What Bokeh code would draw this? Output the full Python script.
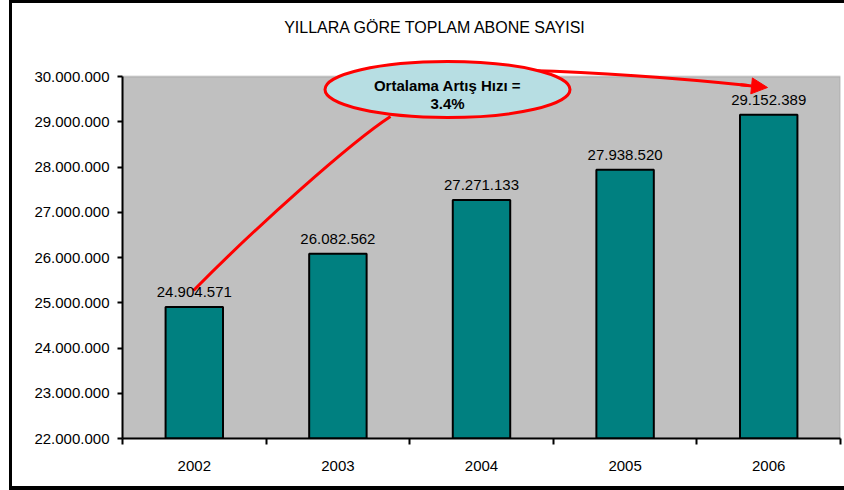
from bokeh.plotting import figure
from bokeh.models import (ColumnDataSource, Range1d, FixedTicker, BoxAnnotation,
                          LabelSet, Label, Arrow, NormalHead)
from bokeh.embed import file_html
from bokeh.resources import INLINE
from bokeh.core.properties import value

# ---------------- data ----------------
years = ["2002", "2003", "2004", "2005", "2006"]
subscribers = [24904571, 26082562, 27271133, 27938520, 29152389]
y_ticks = [22000000, 23000000, 24000000, 25000000, 26000000,
           27000000, 28000000, 29000000, 30000000]
title_text = "YILLARA GÖRE TOPLAM ABONE SAYISI"
note_line1 = "Ortalama Artış Hızı ="
note_line2 = "3.4%"


def fmt(v):
    return f"{v:,}".replace(",", ".")


# ---------------- layout ----------------
W, H = 844, 490
LEFT, RIGHT, BOTTOM = 122, 4, 52
N = len(years)
panel_top_px, panel_bottom_px = 76, H - BOTTOM      # pixel rows of 30M and 22M
Y0 = y_ticks[0]
span = y_ticks[-1] - y_ticks[0]
Y1 = Y0 + span * panel_bottom_px / (panel_bottom_px - panel_top_px)
frame_w = W - LEFT - RIGHT


def dx(px):  # pixel -> data x
    return (px - LEFT) / frame_w * N


def dy(py):  # pixel -> data y
    return Y0 + (panel_bottom_px - py) / (panel_bottom_px - panel_top_px) * span


xs = [i + 0.5 for i in range(N)]
src = ColumnDataSource(dict(x=xs, value=subscribers,
                            label=[fmt(v) for v in subscribers]))

p = figure(width=W, height=H, x_range=Range1d(0, N), y_range=Range1d(Y0, Y1),
           output_backend="svg", toolbar_location=None,
           min_border_left=LEFT, min_border_right=RIGHT, min_border_top=0,
           min_border_bottom=BOTTOM)
p.background_fill_color = None
p.border_fill_color = None
p.outline_line_color = None
p.grid.visible = False
p.styles = {"box-shadow": "inset 9px 0 0 0 #fff, inset 12px 0 0 0 #000, "
                          "inset 0 3px 0 0 #000, inset 0 -4px 0 0 #000"}

# gray plot panel
p.add_layout(BoxAnnotation(left=0, right=N, bottom=y_ticks[0], top=y_ticks[-1],
                           fill_color="#C0C0C0", fill_alpha=1.0,
                           line_color="#808080", line_width=2, level="underlay"))

# y axis
ya = p.yaxis[0]
ya.ticker = FixedTicker(ticks=y_ticks)
ya.major_label_overrides = {t: fmt(t) for t in y_ticks}
ya.bounds = (y_ticks[0], y_ticks[-1])
ya.major_label_text_font = "Liberation Sans"
ya.major_label_text_font_size = "15px"
ya.major_label_text_color = "black"
ya.major_tick_out = 5
ya.major_tick_in = 0
ya.major_tick_line_width = 2
ya.minor_tick_line_color = None
ya.axis_line_width = 2
ya.major_label_standoff = 8

# x axis
xa = p.xaxis[0]
xa.ticker = FixedTicker(ticks=xs, minor_ticks=list(range(N + 1)))
xa.major_label_overrides = {x: y for x, y in zip(xs, years)}
xa.major_tick_line_color = None
xa.major_tick_out = 0
xa.major_tick_in = 0
xa.minor_tick_out = 6
xa.minor_tick_in = 0
xa.minor_tick_line_color = "black"
xa.minor_tick_line_width = 2
xa.axis_line_width = 2
xa.major_label_text_font = "Liberation Sans"
xa.major_label_text_font_size = "15px"
xa.major_label_text_color = "black"
xa.major_label_standoff = 16

# bars
p.vbar(x="x", top="value", bottom=Y0, width=0.4, source=src,
       fill_color="#008080", line_color="black", line_width=2)

p.add_layout(LabelSet(x="x", y="value", text="label", source=src,
                      text_align="center", text_baseline="alphabetic", y_offset=10,
                      text_font=value("Liberation Sans"), text_font_size="15px",
                      text_color="black"))

# title
p.add_layout(Label(x=dx(435), y=dy(27), text=title_text, text_align="center",
                   text_baseline="middle", text_font="Liberation Sans",
                   text_font_size="16px", text_color="black"))

# annotation curves
p.bezier(x0=[dx(193)], y0=[dy(290)], x1=[dx(390)], y1=[dy(116)],
         cx0=[dx(255)], cy0=[dy(227)], cx1=[dx(350)], cy1=[dy(142)],
         line_color="red", line_width=3)
p.bezier(x0=[dx(528)], y0=[dy(70)], x1=[dx(748)], y1=[dy(85)],
         cx0=[dx(600)], cy0=[dy(72)], cx1=[dx(690)], cy1=[dy(79)],
         line_color="red", line_width=3)
p.add_layout(Arrow(end=NormalHead(size=16, fill_color="red", line_color="red"),
                   x_start=dx(740), y_start=dy(84.3), x_end=dx(767), y_end=dy(87),
                   line_color="red", line_width=3))

# ellipse callout
p.ellipse(x=[dx(447)], y=[dy(89)], width=245, height=56,
          width_units="screen", height_units="screen",
          fill_color="#B7DEE3", line_color="red", line_width=3)
p.add_layout(Label(x=dx(447), y=dy(85), text=note_line1, text_align="center",
                   text_baseline="middle", text_font="Liberation Sans",
                   text_font_style="bold", text_font_size="15px", text_color="black"))
p.add_layout(Label(x=dx(447), y=dy(103), text=note_line2, text_align="center",
                   text_baseline="middle", text_font="Liberation Sans",
                   text_font_style="bold", text_font_size="15px", text_color="black"))

open("out.html", "w").write(file_html(p, INLINE))
